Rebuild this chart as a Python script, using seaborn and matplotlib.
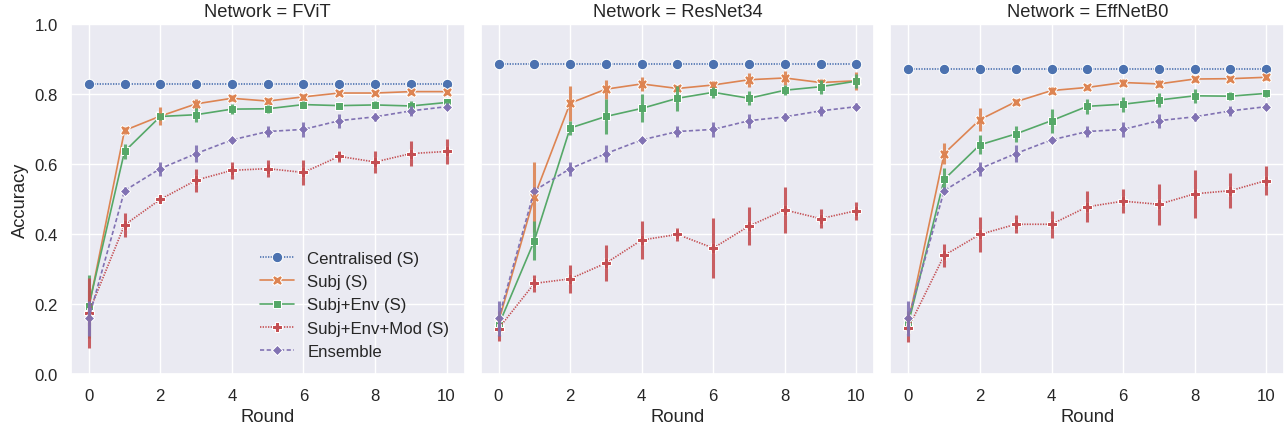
import pandas as pd
import matplotlib.pyplot as plt
import seaborn as sns

rounds = [0, 1, 2, 3, 4, 5, 6, 7, 8, 9, 10]
networks = ["FViT", "ResNet34", "EffNetB0"]
methods = ["Centralised (S)", "Subj (S)", "Subj+Env (S)", "Subj+Env+Mod (S)", "Ensemble"]

# FViT
fvit_cent = [0.829, 0.829, 0.829, 0.829, 0.829, 0.829, 0.829, 0.829, 0.829, 0.829, 0.829]
fvit_subj = [0.190, 0.697, 0.738, 0.773, 0.789, 0.781, 0.793, 0.804, 0.804, 0.808, 0.808]
fvit_env = [0.195, 0.637, 0.737, 0.742, 0.758, 0.759, 0.771, 0.768, 0.770, 0.767, 0.777]
fvit_mod = [0.176, 0.427, 0.500, 0.555, 0.583, 0.588, 0.577, 0.623, 0.607, 0.631, 0.637]
fvit_subj_err = [0.050, 0.010, 0.025, 0.015, 0.008, 0.008, 0.008, 0.006, 0.006, 0.006, 0.006]
fvit_env_err = [0.090, 0.022, 0.010, 0.020, 0.015, 0.012, 0.010, 0.008, 0.010, 0.015, 0.010]
fvit_mod_err = [0.100, 0.035, 0.010, 0.033, 0.025, 0.025, 0.037, 0.015, 0.031, 0.035, 0.035]

# ResNet34
resnet_cent = [0.886, 0.886, 0.886, 0.886, 0.886, 0.886, 0.886, 0.886, 0.886, 0.886, 0.886]
resnet_subj = [0.150, 0.508, 0.775, 0.815, 0.830, 0.817, 0.827, 0.842, 0.847, 0.834, 0.839]
resnet_env = [0.140, 0.382, 0.704, 0.737, 0.760, 0.789, 0.806, 0.789, 0.812, 0.822, 0.838]
resnet_mod = [0.131, 0.260, 0.273, 0.318, 0.384, 0.400, 0.361, 0.424, 0.470, 0.445, 0.468]
resnet_subj_err = [0.030, 0.100, 0.050, 0.027, 0.020, 0.008, 0.010, 0.020, 0.020, 0.010, 0.025]
resnet_env_err = [0.030, 0.056, 0.020, 0.050, 0.040, 0.036, 0.015, 0.020, 0.015, 0.020, 0.020]
resnet_mod_err = [0.035, 0.024, 0.040, 0.052, 0.053, 0.019, 0.085, 0.054, 0.066, 0.028, 0.026]

# EffNetB0
eff_cent = [0.873, 0.873, 0.873, 0.873, 0.873, 0.873, 0.873, 0.873, 0.873, 0.873, 0.873]
eff_subj = [0.150, 0.631, 0.728, 0.779, 0.811, 0.820, 0.834, 0.830, 0.844, 0.845, 0.849]
eff_env = [0.145, 0.557, 0.656, 0.687, 0.725, 0.766, 0.772, 0.784, 0.796, 0.795, 0.803]
eff_mod = [0.133, 0.340, 0.400, 0.429, 0.429, 0.479, 0.495, 0.486, 0.516, 0.525, 0.554]
eff_subj_err = [0.030, 0.030, 0.032, 0.008, 0.010, 0.008, 0.010, 0.010, 0.008, 0.008, 0.008]
eff_env_err = [0.030, 0.033, 0.027, 0.024, 0.034, 0.022, 0.022, 0.020, 0.020, 0.012, 0.010]
eff_mod_err = [0.040, 0.033, 0.049, 0.026, 0.039, 0.044, 0.035, 0.059, 0.069, 0.050, 0.042]

# Ensemble is the same in every panel
ensemble = [0.160, 0.525, 0.588, 0.631, 0.670, 0.694, 0.700, 0.725, 0.736, 0.753, 0.765]
ensemble_err = [0.050, 0.010, 0.020, 0.024, 0.008, 0.017, 0.022, 0.020, 0.012, 0.015, 0.010]
cent_err = [0.002, 0.002, 0.002, 0.002, 0.002, 0.002, 0.002, 0.002, 0.002, 0.002, 0.002]


def build_frame():
    means = {
        "FViT": [fvit_cent, fvit_subj, fvit_env, fvit_mod, ensemble],
        "ResNet34": [resnet_cent, resnet_subj, resnet_env, resnet_mod, ensemble],
        "EffNetB0": [eff_cent, eff_subj, eff_env, eff_mod, ensemble],
    }
    errs = {
        "FViT": [cent_err, fvit_subj_err, fvit_env_err, fvit_mod_err, ensemble_err],
        "ResNet34": [cent_err, resnet_subj_err, resnet_env_err, resnet_mod_err, ensemble_err],
        "EffNetB0": [cent_err, eff_subj_err, eff_env_err, eff_mod_err, ensemble_err],
    }
    rows = []
    for net in networks:
        for m, vals, ev in zip(methods, means[net], errs[net]):
            for r, v, e in zip(rounds, vals, ev):
                rows.append({"Network": net, "Method": m, "Round": r,
                             "Accuracy": v, "Err": e})
    return pd.DataFrame(rows)


df = build_frame()

sns.set_theme(style="darkgrid", font_scale=1.1)
plt.rcParams["font.family"] = ["Liberation Sans", "DejaVu Sans"]

palette = dict(zip(methods, sns.color_palette("deep", 5)))
dashes = {
    "Centralised (S)": (0.8, 0.8),
    "Subj (S)": "",
    "Subj+Env (S)": "",
    "Subj+Env+Mod (S)": (0.8, 0.8),
    "Ensemble": (2.5, 1.5),
}

fig, axes = plt.subplots(1, 3, figsize=(12.88, 4.31), sharey=True)
fig.subplots_adjust(left=0.055, right=0.997, top=0.941, bottom=0.129, wspace=0.041)

for i, (ax, net) in enumerate(zip(axes, networks)):
    sub = df[df["Network"] == net]
    sns.lineplot(data=sub, x="Round", y="Accuracy", hue="Method", style="Method",
                 palette=palette, markers=True, dashes=dashes, errorbar=None,
                 linewidth=1.2, markersize=7.5, legend=(i == 0), ax=ax)
    for m in methods:
        s = sub[sub["Method"] == m]
        ax.errorbar(s["Round"], s["Accuracy"], yerr=s["Err"], fmt="none",
                    ecolor=palette[m], elinewidth=2.2, capsize=0, alpha=0.9)
    ax.set_title(f"Network = {net}")
    ax.set_ylim(0, 1)
    ax.set_xlabel("Round")
    if i == 0:
        handles, labels = ax.get_legend_handles_labels()
        ax.legend(handles, labels, loc="lower right", frameon=False)

plt.savefig("out.png", dpi=100)
